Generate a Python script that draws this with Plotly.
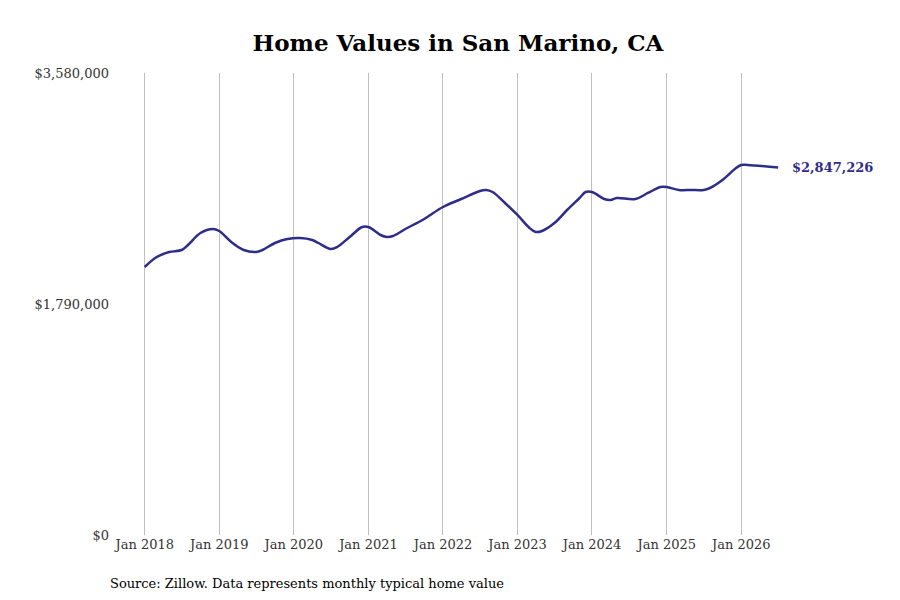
import plotly.graph_objects as go

dates = ["2018-01-01","2018-03-01","2018-05-01","2018-07-01","2018-08-01","2018-10-01","2018-12-01",
"2019-01-01","2019-03-01","2019-05-01","2019-07-01","2019-08-01","2019-10-01","2019-12-01",
"2020-02-01","2020-04-01","2020-05-01","2020-07-01","2020-08-01","2020-10-01","2020-12-01",
"2021-01-01","2021-03-01","2021-04-01","2021-05-01","2021-07-01","2021-10-01",
"2022-01-01","2022-04-01","2022-07-01","2022-08-01","2022-09-01","2022-11-01",
"2023-01-01","2023-03-01","2023-04-01","2023-05-01","2023-07-01","2023-09-01","2023-11-01","2023-12-01",
"2024-01-01","2024-03-01","2024-04-01","2024-05-01","2024-08-01","2024-10-01","2024-12-01",
"2025-01-01","2025-03-01","2025-05-01","2025-07-01","2025-08-01","2025-10-01","2025-12-01",
"2026-01-01","2026-02-01","2026-07-01"]
values = [2076700,2154200,2193000,2208500,2247200,2340200,2371200,
2355700,2270500,2208500,2193000,2208500,2262700,2293700,
2301500,2286000,2262700,2216200,2231700,2309200,2386700,
2386700,2324700,2309200,2317000,2371200,2448700,
2541700,2603700,2665700,2673400,2657900,2572700,
2479700,2378900,2347900,2355700,2417700,2518400,2611400,2657900,
2657900,2603700,2596000,2611400,2603700,2650200,2696700,
2696700,2673400,2673400,2673400,2688900,2750900,2836100,
2867100,2867100,2847226]
tick_vals = ["2018-01-01","2019-01-01","2020-01-01","2021-01-01","2022-01-01","2023-01-01","2024-01-01","2025-01-01","2026-01-01"]
tick_text = ["Jan 2018","Jan 2019","Jan 2020","Jan 2021","Jan 2022","Jan 2023","Jan 2024","Jan 2025","Jan 2026"]
y_ticks = [0, 1790000, 3580000]
y_text = ["$0", "$1,790,000", "$3,580,000"]
color = "#2e2e8a"
serif = "DejaVu Serif"

fig = go.Figure(go.Scatter(x=dates, y=values, mode="lines", line=dict(color=color, width=2.5, shape="spline"), hoverinfo="skip"))
fig.add_annotation(x=dates[-1], y=values[-1], text="<b>$%s</b>" % format(values[-1], ","), showarrow=False,
                   xanchor="left", xshift=12, font=dict(family=serif, size=13, color=color))
fig.add_annotation(xref="paper", yref="paper", x=-0.003, y=-0.085, xanchor="left", yanchor="top",
                   text="Source: Zillow. Data represents monthly typical home value", showarrow=False,
                   font=dict(family=serif, size=13, color="#000"))
fig.update_layout(
    width=900, height=600, plot_bgcolor="white", paper_bgcolor="white", showlegend=False,
    margin=dict(l=102, r=118, t=65, b=73),
    title=dict(text="<b>Home Values in San Marino, CA</b>", x=0.5, xanchor="center", yref="container",
               y=0.955, yanchor="top", font=dict(family=serif, size=23, color="#000")),
    xaxis=dict(range=["2017-07-15","2026-08-28"], tickvals=tick_vals, ticktext=tick_text, showgrid=True,
               gridcolor="#c0c0c0", gridwidth=1, zeroline=False, showline=False, ticks="",
               tickfont=dict(family=serif, size=13, color="#333")),
    yaxis=dict(range=[0, 3580000], tickvals=y_ticks, ticktext=y_text, showgrid=False, zeroline=False,
               showline=False, ticks="", tickfont=dict(family=serif, size=13, color="#333")),
)
fig.write_html("out.html")
